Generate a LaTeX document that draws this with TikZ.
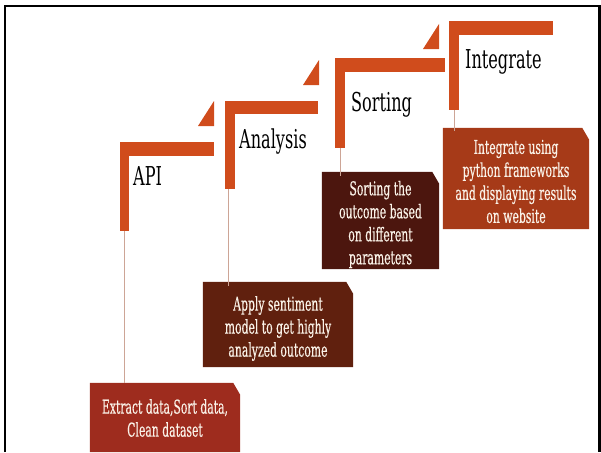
\documentclass[tikz,border=0pt]{standalone}
\usepackage{fontspec}
\setmainfont{DejaVu Serif}[FakeStretch=0.62]
\newfontfamily\boxfont{DejaVu Serif}[FakeStretch=0.57,FakeBold=0.4]
\usetikzlibrary{backgrounds}
\definecolor{barc}{RGB}{208,76,28}
\definecolor{boxa}{RGB}{158,44,30}
\definecolor{boxb}{RGB}{96,32,14}
\definecolor{boxc}{RGB}{76,22,14}
\definecolor{boxd}{RGB}{166,58,24}
\definecolor{cream}{RGB}{250,242,232}
\definecolor{linec}{RGB}{205,165,150}
\begin{document}
\begin{tikzpicture}[x=1pt,y=-1pt,
  barfill/.style={fill=barc},
  head/.style={anchor=base west, inner sep=0pt, font=\fontsize{26}{30}\selectfont},
  boxtext/.style={align=center, text=cream, inner sep=0pt, font=\boxfont\fontsize{19}{23}\selectfont},
  conn/.style={draw=linec, line width=0.8pt},
  frame/.style={draw=black, line width=2.5pt}]
\useasboundingbox (0,0) rectangle (601,452);
% frame
\draw[frame] (5,452) -- (5,6) -- (599.5,6) -- (599.5,452);
% brackets
\fill[barfill] (120,142) rectangle (214,156);
\fill[barfill] (120,142) rectangle (129,231);
\fill[barfill] (198,126) -- (214,126) -- (214,101) -- cycle;
\fill[barfill] (225,101) rectangle (318,114);
\fill[barfill] (225,101) rectangle (235,189);
\fill[barfill] (303,85) -- (319,85) -- (319,60) -- cycle;
\fill[barfill] (335,58) rectangle (445,72);
\fill[barfill] (335,58) rectangle (345,148);
\fill[barfill] (423,49) -- (439,49) -- (439,24) -- cycle;
\fill[barfill] (449,21) rectangle (553,35);
\fill[barfill] (449,21) rectangle (459,110);
\coordinate (v1) at (124,231);
\coordinate (v2) at (228,189);
\coordinate (v3) at (340,148);
\coordinate (v4) at (454,110);
% headings
\node[head] (h1) at (133,185) {API};
\node[head] (h2) at (239,148) {Analysis};
\node[head] (h3) at (351,111) {Sorting};
\node[head] (h4) at (465,68) {Integrate};
% boxes (node centre = text centre; fill offset by \d)
\node[boxtext, minimum width=150pt, minimum height=69pt] (b1) at (165,418) {Extract data,Sort data,\\Clean dataset};
\node[boxtext, minimum width=150pt, minimum height=85pt] (b2) at (278,328.5) {Apply sentiment\\model to get highly\\analyzed outcome};
\node[boxtext, minimum width=117pt, minimum height=97pt] (b3) at (380.5,224.5) {Sorting the\\outcome based\\on different\\parameters};
\node[boxtext, minimum width=146pt, minimum height=101pt] (b4) at (516,181.5) {Integrate using\\python frameworks\\and displaying results\\on website};
\begin{scope}[on background layer]
\foreach \b/\c/\d in {b1/boxa/0.5,b2/boxb/4,b3/boxc/4,b4/boxd/3}{
  \fill[\c] ([yshift=\d pt]\b.south west) -- ([yshift=\d pt]\b.north west) -- ([xshift=-7pt,yshift=\d pt]\b.north east) -- ([yshift=\d pt-12pt]\b.north east) -- ([yshift=\d pt]\b.south east) -- cycle;
}
\end{scope}
% connectors
\draw[conn] (v1) -- (b1.north -| v1);
\draw[conn] (v2) -- (b2.north -| v2);
\draw[conn] (v3) -- (b3.north -| v3);
\draw[conn] (v4) -- (b4.north -| v4);
\end{tikzpicture}
\end{document}
